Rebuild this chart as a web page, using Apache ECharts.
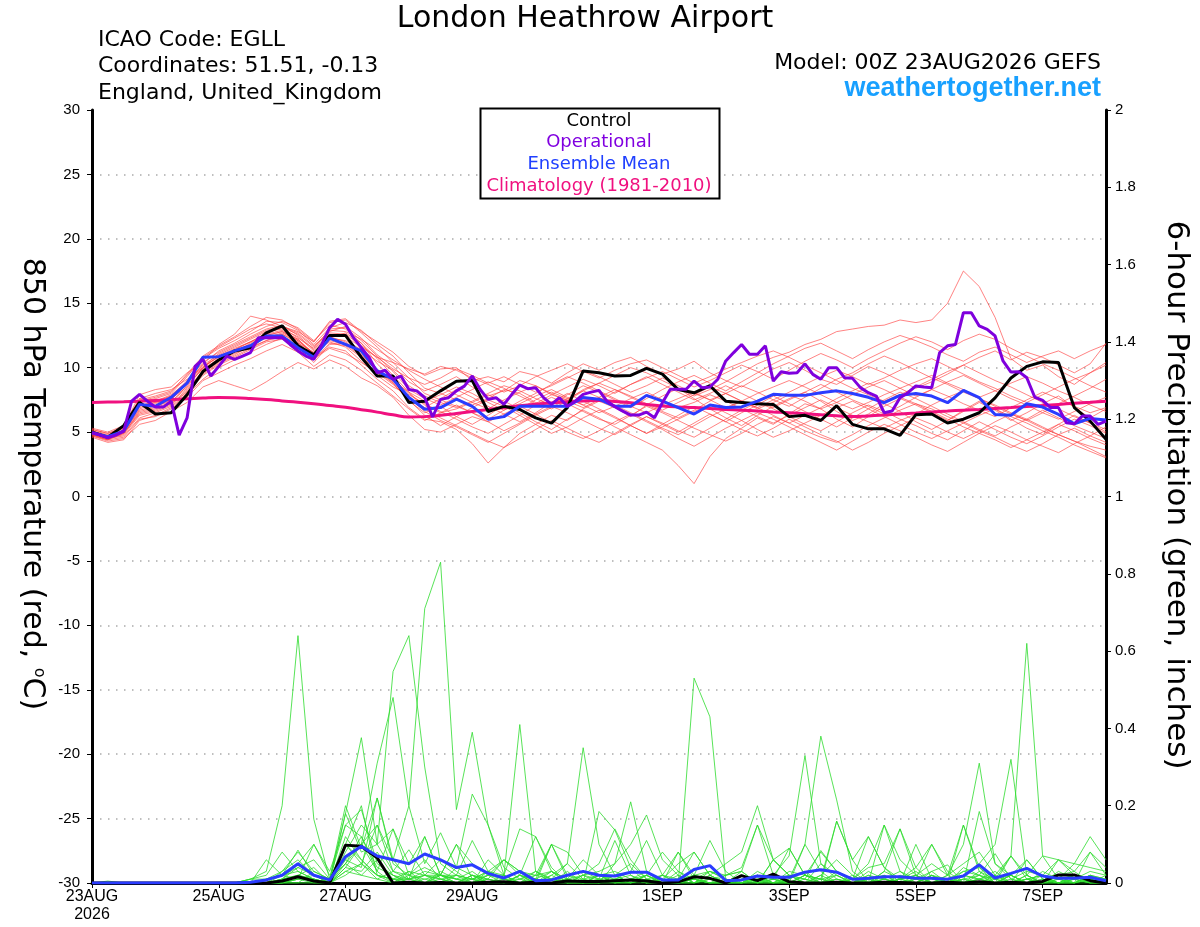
<!DOCTYPE html>
<html><head><meta charset="utf-8">
<script src="https://cdn.jsdelivr.net/npm/echarts@6/dist/echarts.min.js"></script>
<style>html,body{margin:0;padding:0;background:#fff}#c{width:1200px;height:927px}</style>
</head><body><div id="c"></div>
<script>
// ---- axis / labels ----
const tickHours = [0, 48, 96, 144, 216, 264, 312, 360];
const tickLabels = ['23AUG\n2026', '25AUG', '27AUG', '29AUG', '1SEP', '3SEP', '5SEP', '7SEP'];
const STEP = 6;      // hours between ensemble values
const OP_STEP = 3;   // hours between operational values

// ---- 850 hPa temperature (°C) ----
const control = [5.0,4.6,5.5,7.3,6.4,6.5,7.9,9.7, 10.6,11.3,11.55,12.7,13.25,11.7,11.0,12.5,
 12.5,10.8,9.35,9.35,7.3,7.4,8.2,8.95, 9.0,6.6,7.0,6.75,6.1,5.7,6.9,9.75,
 9.6,9.35,9.4,9.95,9.5,8.3,8.05,8.6, 7.4,7.3,7.2,7.15,6.2,6.3,5.9,7.05,
 5.6,5.25,5.25,4.75,6.35,6.4,5.7,6.0, 6.5,7.65,9.2,10.1,10.45,10.4,6.9,5.85, 4.45];
const ensMean = [4.95,4.64,5.08,7.15,7.0,7.7,8.8,10.8, 10.85,11.3,11.7,12.45,12.45,11.55,10.8,12.3,
 11.8,11.3,9.75,9.1,7.68,6.77,6.9,7.55, 7.0,6.0,6.2,7.0,7.0,7.0,7.0,7.68,
 7.55,7.0,7.0,7.85,7.4,6.9,6.4,7.1, 6.9,6.95,7.4,7.93,7.85,7.85,8.06,8.2,
 8.0,7.7,7.28,7.85,8.0,7.8,7.28,8.24, 7.67,6.37,6.3,7.2,6.94,6.37,5.65,6.06, 5.93];
const operational = [4.95,4.77,4.56,4.77,5.08,7.4,7.93,7.4,6.94,6.94,7.4,4.77,6.1,10.1,10.65,9.35,
 10.1,10.9,10.65,10.9,11.17,12.33,12.33,12.33,12.33,11.8,11.3,10.9,10.65,11.8,13.1,13.75,
 13.37,12.33,11.55,10.78,9.6,9.8,9.1,9.35,8.3,8.2,7.67,6.17,7.54,7.67,8.2,8.57,
 9.35,8.3,7.54,7.67,7.15,7.93,8.65,8.37,8.44,7.67,7.15,7.67,7.0,7.4,7.93,8.1,
 8.24,7.41,6.97,6.63,6.32,6.32,6.55,6.11,7.28,8.32,8.32,8.32,8.96,8.45,8.5,9.1,
 10.52,11.17,11.8,11.04,11.04,11.7,8.96,9.69,9.56,9.6,10.3,9.48,9.1,10.0,10.0,9.22,
 9.17,8.45,8.06,7.8,6.5,6.63,7.67,8.06,8.58,8.5,8.45,11.17,11.7,11.8,14.27,14.27,
 13.24,12.98,12.46,10.52,9.66,9.69,9.22,7.72,7.46,6.9,6.9,5.73,5.65,6.24,6.24,5.6, 5.85];
const climatology = [7.30,7.33,7.36,7.40,7.45,7.52,7.58,7.64, 7.68,7.66,7.60,7.52,7.42,7.32,7.20,7.06,
 6.92,6.74,6.55,6.34,6.17,6.20,6.30,6.45, 6.60,6.75,6.90,7.05,7.16,7.26,7.35,7.42,
 7.45,7.38,7.28,7.15,7.03,6.95,6.90,6.83, 6.76,6.70,6.63,6.56,6.50,6.42,6.34,6.26,
 6.20,6.25,6.32,6.40,6.48,6.56,6.63,6.70, 6.76,6.83,6.90,6.98,7.06,7.15,7.23,7.31, 7.40];

const mem01 = [4.9,4.5,5.1,6.9,7.3,7.8,9.0,10.4, 11.2,11.8,12.4,13.0,13.3,12.5,11.4,12.8, 13.2,12.3,11.0,10.1,8.9,8.2,8.7,9.3, 8.5,7.8,8.2,9.0,8.6,7.9,7.5,8.3, 8.8,9.4,10.0,9.6,9.0,8.4,7.8,8.3, 8.9,9.6,10.3,10.8,11.2,11.8,12.2,12.8, 13.0,13.2,13.3,13.7,13.5,13.7,15.0,17.5, 16.3,13.9,10.7,9.8,10.2,9.3,8.7,9.6, 10.4];
const mem02 = [5.0,4.7,4.9,6.5,6.8,7.2,8.1,9.5, 10.3,10.9,11.5,12.1,12.6,12.0,10.8,11.6, 11.3,10.2,9.1,8.2,6.9,6.0,5.8,5.2, 4.1,2.6,3.8,4.9,5.6,6.3,5.9,6.8, 7.4,6.9,6.2,7.1,7.8,8.4,7.6,6.8, 6.1,5.5,6.3,7.0,7.6,8.1,7.4,6.6, 5.9,6.4,7.2,6.6,5.8,5.2,5.9,6.7, 7.4,6.8,6.0,5.3,4.8,5.6,6.3,5.7, 5.0];
const mem03 = [4.8,4.4,5.2,7.2,7.0,7.5,8.8,10.1, 10.8,11.4,12.0,12.6,12.9,12.2,11.0,12.4, 12.0,11.1,9.7,8.8,7.4,6.5,7.0,6.2, 5.6,6.3,7.1,6.5,5.8,5.2,6.0,6.7, 6.1,5.4,4.8,4.2,3.6,2.4,1.0,3.1, 4.5,5.3,6.1,5.6,6.4,7.2,6.8,6.0, 5.4,6.2,7.0,7.6,7.1,6.5,5.9,6.6, 7.3,6.7,5.9,6.5,7.2,7.8,6.9,6.1, 6.8];
const mem04 = [5.2,4.9,5.4,7.9,8.3,8.5,9.6,10.5, 11.8,12.6,14.0,13.7,13.2,12.8,12.0,13.6, 13.8,12.8,12.0,11.2,10.1,9.4,9.9,10.0, 9.0,9.3,8.9,9.7,9.4,8.8,9.6,10.3, 9.8,10.4,10.8,10.1,9.5,9.9,10.5,9.6, 9.0,8.5,9.2,9.9,10.4,9.8,9.1,8.7, 9.4,10.1,9.6,9.0,8.4,8.9,9.5,10.2, 10.8,11.3,10.6,11.2,10.8,10.2,9.6,10.3, 11.9];
const mem05 = [4.7,4.3,4.5,5.6,5.9,6.6,7.3,8.5, 9.0,8.6,8.2,8.9,9.7,10.4,9.9,10.6, 10.1,9.2,8.6,7.7,6.3,5.2,5.0,5.6, 6.2,5.8,5.1,5.7,6.4,7.0,6.5,5.9, 5.3,4.8,5.5,6.2,5.7,5.1,4.6,5.3, 6.0,6.7,7.3,6.8,6.2,5.6,5.1,5.8, 6.5,7.1,6.6,6.0,5.5,4.9,4.4,5.1, 5.8,5.2,4.6,4.1,4.7,5.4,6.0,5.5, 4.9];
const mem06 = [5.1,4.8,5.3,7.5,7.8,8.2,9.4,10.7, 11.5,12.1,12.8,13.6,13.5,12.9,11.8,13.1, 13.5,12.9,11.8,10.9,9.6,8.4,8.0,7.5, 7.1,7.6,8.3,8.0,7.3,6.8,7.4,8.2, 8.8,8.3,7.7,7.1,6.6,6.1,6.7,7.4, 8.0,8.6,8.1,7.5,7.0,7.7,8.4,9.1, 9.6,10.3,10.9,10.4,9.8,9.2,8.7,8.1, 7.6,7.1,6.5,6.0,5.4,4.8,4.3,3.9, 3.6];
const mem07 = [4.9,4.6,5.0,6.7,7.0,7.4,8.4,9.7, 10.5,11.1,11.6,12.1,12.4,11.9,11.2,12.0, 11.6,10.5,9.4,8.5,7.9,7.2,6.6,6.0, 5.4,4.9,5.6,6.3,7.1,7.7,7.2,6.6, 6.0,5.6,6.3,7.0,6.5,5.9,5.3,4.8, 4.3,4.9,5.6,6.2,5.7,5.1,4.6,4.2, 4.8,5.5,6.1,6.7,7.2,6.8,6.2,5.7, 5.1,4.6,4.0,3.5,4.1,4.8,5.3,4.7, 4.2];
const mem08 = [5.0,4.7,5.2,7.0,7.4,7.9,8.9,10.2, 11.0,11.6,12.2,12.8,13.0,12.4,11.3,12.6, 12.4,11.6,10.8,10.4,9.9,9.5,10.1,9.8, 9.2,8.7,8.1,8.6,9.3,9.8,10.3,9.7, 9.2,9.8,10.3,10.6,10.0,9.4,8.8,9.3, 9.9,10.4,10.9,11.3,10.8,10.2,9.6,9.0, 8.4,7.9,7.4,7.9,8.5,9.1,9.7,10.2, 9.6,9.0,8.5,7.9,7.3,6.8,6.2,5.7, 5.2];
const mem09 = [4.6,4.2,4.4,5.9,6.3,6.9,7.9,9.1, 10.0,10.6,11.2,11.8,12.3,11.7,10.6,11.9, 11.7,10.8,9.8,9.0,8.1,7.4,7.9,8.5, 8.0,7.3,6.7,7.2,7.8,8.3,7.7,7.1, 6.5,7.0,7.6,8.1,7.5,6.9,7.3,7.9, 7.4,6.8,6.2,5.7,6.3,6.9,7.5,6.9, 6.3,5.8,5.3,5.9,6.4,7.1,7.7,8.2, 7.6,7.0,6.4,5.9,6.5,7.2,7.8,8.4, 9.1];
const mem10 = [5.3,5.0,5.5,7.6,8.0,8.3,9.1,10.0, 10.9,11.5,12.0,12.5,12.8,12.2,11.1,12.3, 12.1,11.4,10.5,9.8,8.6,7.8,7.3,6.9, 7.4,8.0,8.6,8.2,7.6,7.1,7.9,8.6, 8.1,7.5,6.9,7.6,8.3,8.9,9.4,8.8, 8.2,8.9,9.6,10.3,10.9,11.5,11.9,11.3, 10.7,11.4,12.0,12.5,12.1,11.6,11.0,10.5, 11.2,11.6,11.0,10.4,10.9,11.3,10.7,11.3, 11.8];
const mem11 = [4.8,4.5,4.8,6.3,6.6,7.1,8.2,9.8, 10.6,11.2,11.9,12.5,12.8,12.1,11.0,12.3, 12.7,11.9,10.7,9.4,8.1,6.8,6.1,5.5, 4.9,4.3,3.8,4.5,5.2,5.9,5.3,4.7, 4.2,4.9,5.6,6.2,5.6,5.0,5.7,6.4, 5.8,5.2,4.7,5.3,6.0,5.4,4.8,4.3, 3.6,4.2,4.9,5.5,6.1,5.6,5.0,4.5, 5.1,5.8,6.4,5.9,5.3,4.8,4.3,3.7, 3.1];
const mem12 = [5.0,4.6,5.1,7.3,7.6,8.0,9.3,10.8, 11.6,12.3,13.0,13.4,13.1,12.3,11.5,13.0, 13.1,12.1,10.9,9.7,8.3,7.6,7.1,7.7, 8.3,8.9,8.4,7.8,7.2,7.9,8.5,9.1, 8.6,8.0,8.7,9.3,8.7,8.1,7.5,8.0, 8.6,8.0,7.4,6.9,7.5,8.1,8.7,8.1, 7.5,7.0,6.4,7.0,7.7,8.3,7.8,7.2, 6.7,6.2,6.9,7.5,8.1,7.6,7.0,6.5, 6.9];
const mem13 = [4.7,4.4,4.9,6.6,6.9,7.3,8.6,10.0, 10.9,11.3,11.8,12.4,12.6,11.9,10.7,11.5, 11.1,10.4,9.6,8.7,7.6,6.9,7.6,8.3, 7.7,7.0,6.4,5.8,6.5,7.3,8.0,7.4, 6.8,6.2,5.5,4.9,5.6,6.3,7.0,6.4, 5.8,6.5,7.1,7.8,7.2,6.6,6.0,5.4, 6.1,6.8,7.5,8.1,7.6,7.0,6.4,5.8, 5.2,4.7,5.4,6.0,6.7,6.1,5.5,5.0, 4.5];
const mem14 = [5.1,4.7,5.0,6.8,7.2,7.7,8.7,9.9, 10.7,11.4,12.0,12.7,13.1,12.6,11.6,12.9, 12.8,12.2,11.4,10.6,9.8,9.1,8.5,7.9, 7.3,6.8,7.5,8.1,8.6,8.0,7.4,6.9, 7.5,8.1,8.7,9.2,9.7,9.1,8.5,9.0, 9.6,10.2,9.7,9.1,9.8,10.5,11.1,10.6, 10.0,10.7,11.3,11.9,12.4,12.0,11.4,12.1, 12.6,12.2,11.5,10.9,10.3,9.8,9.2,8.6, 8.1];
const mem15 = [4.9,4.5,4.7,6.1,6.5,7.0,8.0,9.4, 10.2,10.8,11.4,12.0,12.2,11.6,10.4,11.8, 11.9,11.0,9.9,8.8,7.5,6.3,5.5,6.2, 6.9,7.5,7.0,6.3,5.6,4.9,5.4,6.1, 6.7,6.1,5.5,4.9,5.4,6.0,6.6,7.1, 6.5,5.9,5.2,4.6,5.1,5.7,6.3,6.9, 7.4,6.8,6.2,5.6,5.0,4.5,5.1,5.7, 6.3,6.8,6.2,5.7,5.1,4.6,4.0,3.5, 3.0];
const mem16 = [5.2,4.9,5.3,7.4,7.7,8.1,9.5,10.9, 11.7,12.4,13.2,13.9,13.7,13.0,12.0,13.5, 13.7,12.7,11.6,10.4,9.2,8.0,7.5,7.0, 6.5,6.0,6.7,7.4,8.0,8.7,9.3,8.8, 8.2,7.6,7.0,6.5,7.1,7.6,8.1,7.5, 6.9,7.4,8.0,8.5,9.0,8.5,7.9,7.3, 6.8,7.3,7.9,8.4,8.9,9.4,8.8,8.3, 7.7,8.2,8.8,9.3,8.8,8.2,7.7,7.1, 6.6];
const mem17 = [4.8,4.4,4.6,6.0,6.2,6.8,7.7,9.0, 9.6,10.2,10.7,11.3,11.8,11.2,10.1,11.0, 10.6,9.8,8.8,7.8,6.8,5.9,6.5,7.1, 6.5,5.8,6.4,7.0,6.4,5.7,5.0,4.5, 5.1,5.8,6.4,5.8,5.2,4.5,3.9,4.6, 5.3,5.9,6.5,6.0,5.4,4.8,4.2,3.6, 4.3,5.0,5.6,5.1,4.6,4.0,3.5,4.2, 4.9,5.5,5.0,4.4,3.9,3.4,4.1,4.7, 5.4];
const mem18 = [5.0,4.6,5.0,7.1,7.3,7.6,8.5,10.0, 11.1,11.7,12.3,12.9,13.2,12.7,11.7,12.7, 12.6,11.7,10.8,9.9,9.2,8.7,9.2,9.9, 9.4,8.8,9.3,8.7,8.1,8.6,9.2,9.8, 9.3,8.7,8.1,8.6,9.2,8.6,8.0,7.5, 8.0,7.4,6.9,7.5,8.1,8.7,9.3,9.8, 9.3,8.7,9.2,9.8,10.3,10.7,10.1,9.5, 8.9,8.4,7.8,7.3,7.9,8.5,9.1,9.6, 10.2];
const mem19 = [4.9,4.5,5.1,7.6,7.4,7.8,8.8,10.3, 11.3,11.9,12.6,13.2,13.6,13.1,12.1,13.3, 13.0,11.9,10.3,9.1,8.0,7.1,6.5,6.8, 7.3,7.9,7.4,6.8,7.5,8.1,7.6,7.1, 7.7,8.3,7.8,7.2,6.7,7.3,7.9,8.5, 8.0,7.4,6.8,7.3,7.9,7.4,6.8,7.3, 7.9,8.5,9.0,8.4,7.8,8.3,8.9,9.4, 8.8,8.2,7.6,7.1,6.5,6.0,6.6,7.2, 7.7];
const mem20 = [4.8,4.5,4.9,6.4,6.7,7.2,8.3,9.6, 10.4,11.0,11.7,12.3,12.7,12.1,11.1,12.1, 11.8,10.9,9.8,8.9,7.7,6.6,5.9,5.4, 4.8,4.2,4.9,5.6,6.3,6.9,7.6,8.2, 7.7,7.1,6.5,5.9,5.3,4.8,5.5,6.2, 6.8,7.4,6.9,6.3,5.7,6.3,6.9,7.6, 8.2,8.8,8.3,7.7,7.2,6.6,6.0,5.4, 4.9,4.4,3.8,4.4,5.0,5.6,5.1,4.5, 4.0];

// ---- 6-hour precipitation (inches) ----
const controlPcp = [0,0,0,0,0,0,0,0, 0,0,0,0,0.005,0.016,0.005,0, 0.098,0.095,0.065,0,0.002,0,0.001,0,
 0,0.002,0.003,0,0.002,0,0.005,0.004, 0.004,0.006,0.008,0.005,0,0.003,0.016,0.012,
 0,0.019,0.006,0.023,0.003,0,0,0.002, 0,0,0.002,0.001,0,0,0.002,0, 0.003,0,0.002,0,0.004,0.021,0.021,0.006, 0];
const meanPcp = [0,0,0,0,0,0,0,0, 0,0,0.002,0.008,0.02,0.05,0.02,0.008, 0.068,0.095,0.07,0.06,0.05,0.075,0.06,0.04,
 0.047,0.025,0.013,0.03,0.006,0.008,0.02,0.03, 0.02,0.018,0.028,0.028,0.008,0.008,0.035,0.045,
 0.006,0.008,0.018,0.015,0.015,0.028,0.034,0.028, 0.01,0.012,0.016,0.016,0.012,0.012,0.01,0.018,
 0.047,0.013,0.025,0.038,0.018,0.012,0.012,0.015, 0.006];
const pcp01 = [0,0,0,0,0,0,0,0, 0,0,0.01,0.03,0.2,0.64,0.165,0.01, 0.05,0.12,0.03,0,0.02,0.06,0.01,0, 0,0.03,0.01,0,0,0.02,0.05,0.01, 0,0,0.01,0.03,0,0,0.02,0.01, 0,0,0.03,0.01,0,0,0.05,0.02, 0,0,0.01,0,0,0.02,0.01,0, 0.03,0.01,0,0,0.02,0,0,0.01, 0];
const pcp02 = [0,0,0,0,0,0,0,0, 0,0,0,0.01,0.02,0.04,0.02,0, 0.04,0.1,0.15,0.06,0.2,0.71,0.83,0.19, 0.39,0.15,0.02,0,0.01,0.03,0,0, 0.01,0,0,0.02,0,0,0.01,0, 0,0.02,0,0,0.01,0.03,0,0, 0,0.01,0,0,0.02,0,0,0.04, 0.02,0,0,0.01,0,0,0.02,0, 0];
const pcp03 = [0,0,0,0,0,0,0,0, 0,0,0,0,0.01,0.02,0.01,0, 0.08,0.15,0.1,0.547,0.64,0.3,0.05,0.02, 0,0.01,0,0.02,0.12,0.04,0,0, 0,0.02,0.05,0.01,0,0,0,0.03, 0.01,0,0,0.06,0.02,0,0,0.01, 0,0,0.03,0.14,0.02,0,0,0.01, 0,0,0.07,0.02,0,0,0.01,0, 0];
const pcp04 = [0,0,0,0,0,0,0,0, 0,0,0,0,0.03,0.06,0.02,0, 0.05,0.1,0.31,0.48,0.2,0.05,0.13,0.04, 0.02,0,0.01,0.03,0,0,0.01,0.06, 0.02,0,0,0,0.01,0.05,0.08,0.02, 0,0,0.01,0,0,0.02,0.08,0.03, 0,0.02,0.01,0,0.01,0.1,0.03,0, 0,0.01,0,0.06,0.01,0,0,0.02, 0.01];
const pcp05 = [0,0.005,0,0,0,0,0,0, 0,0,0.01,0.02,0.08,0.03,0.01,0, 0.18,0.376,0.1,0.14,0.05,0.12,0.02,0, 0.01,0.03,0.06,0.02,0,0,0,0, 0,0.01,0.02,0,0.02,0.08,0.01,0, 0,0.03,0.15,0.02,0,0,0.02,0.06, 0.02,0,0,0.01,0.04,0,0,0.15, 0.03,0,0,0.02,0.07,0.01,0,0, 0];
const pcp06 = [0,0,0,0,0,0,0,0, 0,0,0,0,0.01,0.04,0.06,0.01, 0.2,0.09,0.22,0.06,0.01,0.03,0.02,0.1, 0.05,0.02,0.02,0.41,0.03,0.01,0,0.02, 0.05,0.14,0.06,0.01,0,0.02,0,0, 0,0.02,0,0.06,0.09,0.02,0,0, 0.01,0.12,0.04,0,0,0.02,0,0, 0.185,0.05,0.01,0,0,0.02,0,0.08, 0.02];
const pcp07 = [0,0,0,0,0,0,0,0, 0,0,0,0.01,0.02,0.01,0.1,0.03, 0.15,0.19,0.05,0.02,0,0.01,0.02,0.01, 0,0.02,0.06,0.03,0.02,0.01,0.05,0.35, 0.1,0.02,0,0.01,0,0.03,0.01,0, 0,0,0.02,0,0,0.1,0.03,0, 0,0,0.15,0.03,0.01,0,0.02,0, 0.01,0.03,0,0.01,0,0.06,0.02,0, 0.01];
const pcp08 = [0,0,0,0,0,0,0,0, 0,0,0,0.06,0.02,0.085,0.02,0, 0.03,0.05,0.15,0.03,0.086,0.02,0,0.04, 0.23,0.15,0.04,0.01,0,0.1,0.02,0, 0,0.01,0.03,0.11,0.02,0,0.01,0, 0.02,0.03,0,0,0.02,0,0,0.16, 0.06,0,0.01,0,0,0.03,0.047,0, 0.02,0.076,0.01,0,0,0.02,0.03,0, 0];
const pcp09 = [0,0,0,0,0,0,0,0, 0,0,0,0,0,0.02,0.04,0, 0.12,0.06,0.02,0.01,0,0,0.01,0.02, 0.11,0.03,0.01,0,0.02,0.03,0.01,0, 0.185,0.137,0.04,0,0.01,0,0,0.02, 0,0.01,0,0,0,0.02,0.01,0, 0.01,0,0.02,0,0.1,0.01,0,0.03, 0.04,0,0.02,0,0,0.01,0.05,0.12, 0.06];
const pcp10 = [0,0,0,0,0,0,0,0, 0,0,0,0,0,0.01,0,0, 0.03,0.02,0.06,0.01,0.01,0.02,0.06,0.03, 0,0.01,0,0.01,0.03,0,0.02,0.01, 0.02,0.03,0.01,0,0,0,0.53,0.43, 0.01,0,0.02,0.01,0,0,0.01,0.02, 0,0,0.01,0.03,0,0,0.01,0, 0.01,0,0.02,0,0.01,0,0,0.01, 0];
const pcp11 = [0,0,0,0,0,0,0,0, 0,0,0,0,0.01,0.02,0,0, 0.1,0.06,0.02,0.01,0.01,0,0.02,0.1, 0.01,0,0.02,0,0,0.01,0.02,0.03, 0.01,0,0,0.02,0,0.08,0.02,0.11, 0.03,0,0.01,0.02,0.07,0.33,0.05,0.01, 0,0.01,0,0.02,0.01,0,0,0.02, 0.01,0,0,0.02,0,0.01,0.02,0, 0];
const pcp12 = [0,0,0,0,0,0,0,0, 0,0,0,0,0,0,0,0, 0.02,0.05,0.01,0,0.03,0.02,0.01,0, 0.02,0,0,0.02,0.01,0,0.01,0.02, 0,0,0.01,0,0,0,0.01,0, 0,0,0.02,0,0.01,0.1,0.38,0.215, 0.03,0,0,0.01,0.02,0,0,0.01, 0,0.02,0,0.01,0,0,0.01,0, 0];
const pcp13 = [0,0,0,0,0,0,0,0, 0,0,0,0,0,0.01,0.01,0, 0.04,0.03,0.08,0.02,0,0.02,0.01,0, 0.02,0.01,0,0,0.03,0.01,0,0, 0.02,0.01,0,0.02,0,0,0.02,0.01, 0,0.02,0,0.01,0,0.02,0.01,0, 0.01,0,0.03,0.01,0.02,0.05,0.02,0.1, 0.31,0.05,0.02,0,0.01,0,0,0.02, 0];
const pcp14 = [0,0,0,0,0,0,0,0, 0,0,0,0,0,0,0.03,0.01, 0.1,0.05,0.02,0,0.01,0,0.03,0.01, 0,0.02,0.01,0,0,0.02,0,0.01, 0,0.05,0.21,0.03,0,0,0.01,0, 0.01,0,0,0.02,0,0,0,0.01, 0,0.02,0,0.01,0.03,0,0.01,0.02, 0.05,0.1,0.32,0.02,0,0.03,0.01,0, 0.02];
const pcp15 = [0,0,0,0,0,0,0,0, 0,0,0,0,0,0,0,0.01, 0.05,0.02,0.01,0.03,0.02,0,0,0.02, 0.01,0,0,0.02,0.01,0,0.03,0, 0,0.02,0,0.01,0.02,0,0,0.01, 0,0.01,0.02,0,0,0.01,0,0, 0.02,0,0,0.01,0,0.02,0,0.01, 0.02,0.01,0.07,0.62,0.07,0.06,0.05,0.04, 0.03];
const pcp16 = [0,0,0,0,0,0,0,0, 0,0,0,0,0.01,0.05,0.1,0.02, 0.06,0.1,0.03,0.14,0.02,0.01,0,0, 0.02,0.01,0.06,0.03,0.01,0,0,0.02, 0.03,0.05,0.1,0.176,0.06,0.02,0,0.02, 0.05,0.08,0.2,0.06,0.02,0,0.02,0, 0,0.03,0.01,0,0,0.02,0,0, 0.01,0,0.02,0,0.03,0.01,0,0.02, 0];
const pcp17 = [0,0,0,0,0,0,0,0, 0,0,0,0,0.02,0.03,0.01,0, 0.1,0.2,0.02,0.01,0.03,0,0.02,0.02, 0.01,0.03,0.02,0,0.01,0.1,0.08,0.02, 0.01,0.02,0,0.02,0.08,0.03,0,0.01, 0.02,0.04,0.15,0.06,0.02,0.01,0.084,0.03, 0.01,0.05,0.15,0.06,0.02,0,0.01,0.03, 0.02,0,0.01,0.03,0.02,0,0.02,0.01, 0];
const pcp18 = [0,0,0,0,0,0,0,0, 0,0,0,0,0,0.02,0.01,0, 0.06,0.04,0.22,0.05,0.02,0.04,0.02,0, 0,0.06,0.02,0.14,0.12,0.03,0,0, 0.02,0,0.01,0,0.02,0.01,0.08,0.02, 0,0,0.01,0,0.03,0.02,0,0.03, 0.01,0.04,0.05,0.14,0.04,0.1,0.02,0.15, 0.04,0.01,0.02,0.06,0.01,0,0.01,0.03, 0.02];
const pcp19 = [0,0,0,0,0,0,0,0, 0,0,0,0,0,0.01,0.02,0.01, 0.15,0.12,0.04,0.02,0.01,0.12,0.02,0.01, 0.03,0,0.01,0.01,0.02,0.1,0.01,0, 0.01,0.11,0.02,0,0,0.01,0.01,0.03, 0.01,0,0,0.01,0.09,0.02,0.01,0.16, 0.06,0.12,0.04,0.01,0,0,0.02,0.05, 0.08,0.02,0.07,0.01,0.02,0.06,0.03,0.08, 0.04];
const pcp20 = [0,0,0,0,0,0,0,0, 0,0,0.01,0.01,0.03,0.08,0.03,0.01, 0.18,0.08,0.1,0.03,0.01,0.02,0.02,0.01, 0.01,0.02,0,0.02,0,0.03,0.01,0, 0.02,0,0.01,0.02,0,0.01,0.02,0.03, 0.02,0.03,0,0.01,0.02,0.01,0,0.02, 0,0.01,0.02,0,0.01,0.03,0,0.02, 0.01,0.02,0,0.01,0.02,0.01,0,0.02, 0.01];

const tempMembers = [mem01,mem02,mem03,mem04,mem05,mem06,mem07,mem08,mem09,mem10,
                     mem11,mem12,mem13,mem14,mem15,mem16,mem17,mem18,mem19,mem20];
const pcpMembers = [pcp01,pcp02,pcp03,pcp04,pcp05,pcp06,pcp07,pcp08,pcp09,pcp10,
                    pcp11,pcp12,pcp13,pcp14,pcp15,pcp16,pcp17,pcp18,pcp19,pcp20];

// ---- build chart ----
const FONT = '"Liberation Sans", Arial, Helvetica, sans-serif';
const WIDE = '"DejaVu Sans", Verdana, sans-serif';
const pairs = (arr, step) => arr.map((v, i) => [i * step, v]);
const labelMap = {};
tickHours.forEach((h, i) => labelMap[h] = tickLabels[i]);

const series = [];
tempMembers.forEach((m, k) => series.push({
  type: 'line', name: 'mem' + (k + 1), data: pairs(m, STEP), yAxisIndex: 0,
  symbol: 'none', silent: true, lineStyle: { color: 'rgba(255,60,60,0.8)', width: 0.8 }, z: 2
}));
pcpMembers.forEach((m, k) => series.push({
  type: 'line', name: 'pcp' + (k + 1), data: pairs(m, STEP), yAxisIndex: 1,
  symbol: 'none', silent: true, lineStyle: { color: '#2ddc2d', width: 0.8 }, z: 3
}));
series.push({ type: 'line', name: 'Climatology', data: pairs(climatology, STEP), yAxisIndex: 0,
  symbol: 'none', smooth: true, lineStyle: { color: '#f0107f', width: 3 }, z: 5 });
series.push({ type: 'line', name: 'Control', data: pairs(control, STEP), yAxisIndex: 0,
  symbol: 'none', lineStyle: { color: '#000', width: 3 }, z: 6 });
series.push({ type: 'line', name: 'Ensemble Mean', data: pairs(ensMean, STEP), yAxisIndex: 0,
  symbol: 'none', lineStyle: { color: '#2a3cff', width: 3 }, z: 7 });
series.push({ type: 'line', name: 'Operational', data: pairs(operational, OP_STEP), yAxisIndex: 0,
  symbol: 'none', lineStyle: { color: '#7f00dd', width: 3 }, z: 8 });
series.push({ type: 'line', name: 'Control Pcp', data: pairs(controlPcp, STEP), yAxisIndex: 1,
  symbol: 'none', lineStyle: { color: '#000', width: 3 }, z: 6 });
series.push({ type: 'line', name: 'Mean Pcp', data: pairs(meanPcp, STEP), yAxisIndex: 1,
  symbol: 'none', lineStyle: { color: '#2a3cff', width: 3 }, z: 7 });

const chart = echarts.init(document.getElementById('c'), null, { renderer: 'canvas' });
chart.setOption({
  animation: false,
  backgroundColor: '#fff',
  textStyle: { fontFamily: FONT },
  grid: { left: 92, right: 94, top: 110, bottom: 44 },
  xAxis: {
    type: 'value', min: 0, max: 384,
    axisLine: { show: true, onZero: false, lineStyle: { color: '#000', width: 3 } },
    axisTick: { show: true, customValues: tickHours, length: 5, lineStyle: { color: '#000', width: 1 } },
    axisLabel: { customValues: tickHours, formatter: v => labelMap[v] || '', color: '#000',
      fontSize: 16, fontFamily: FONT, margin: 5, lineHeight: 18 },
    splitLine: { show: false }
  },
  yAxis: [{
    type: 'value', min: -30, max: 30, interval: 5, position: 'left',
    axisLine: { show: true, onZero: false, lineStyle: { color: '#000', width: 3 } },
    axisTick: { show: true, length: 5, lineStyle: { color: '#000', width: 1 } },
    axisLabel: { color: '#000', fontSize: 15, fontFamily: FONT, margin: 12 },
    splitLine: { show: true, showMinLine: false, showMaxLine: false,
      lineStyle: { color: '#aaa', width: 1.5, type: [1.5, 6.5] } }
  }, {
    type: 'value', min: 0, max: 2, interval: 0.2, position: 'right',
    axisLine: { show: true, onZero: false, lineStyle: { color: '#000', width: 3 } },
    axisTick: { show: true, length: 5, lineStyle: { color: '#000', width: 1 } },
    axisLabel: { color: '#000', fontSize: 15, fontFamily: FONT, margin: 9 },
    splitLine: { show: false }
  }],
  graphic: [
    { type: 'text', x: 585, y: 19, style: { text: 'London Heathrow Airport', font: '30px ' + WIDE, fill: '#000', align: 'center', verticalAlign: 'middle' } },
    { type: 'text', x: 98, y: 40, style: { text: 'ICAO Code: EGLL', font: '22px ' + WIDE, fill: '#000', verticalAlign: 'middle' } },
    { type: 'text', x: 98, y: 66, style: { text: 'Coordinates: 51.51, -0.13', font: '22px ' + WIDE, fill: '#000', verticalAlign: 'middle' } },
    { type: 'text', x: 98, y: 93, style: { text: 'England, United_Kingdom', font: '22px ' + WIDE, fill: '#000', verticalAlign: 'middle' } },
    { type: 'text', x: 1101, y: 63, style: { text: 'Model: 00Z 23AUG2026 GEFS', font: '22px ' + WIDE, fill: '#000', align: 'right', verticalAlign: 'middle' } },
    { type: 'text', x: 1101, y: 89, style: { text: 'weathertogether.net', font: 'bold 27px ' + FONT, fill: '#18a0ff', align: 'right', verticalAlign: 'middle' } },
    { type: 'text', x: 32, y: 484, rotation: -Math.PI / 2,
      style: { text: '850 hPa Temperature (red, {s|o}C)', font: '30px ' + WIDE, fill: '#000', align: 'center', verticalAlign: 'middle',
        rich: { s: { font: '16px ' + WIDE, fill: '#000', verticalAlign: 'top' } } } },
    { type: 'text', x: 1176, y: 495, rotation: -Math.PI / 2,
      style: { text: '6-hour Precipitation (green, inches)', font: '31px ' + WIDE, fill: '#000', align: 'center', verticalAlign: 'middle' } },
    { type: 'rect', shape: { x: 480.5, y: 108.5, width: 239, height: 90 }, style: { fill: '#fff', stroke: '#000', lineWidth: 2 }, z: 100 },
    { type: 'text', x: 599, y: 121, z: 101, style: { text: 'Control', font: '18px ' + WIDE, fill: '#000', align: 'center', verticalAlign: 'middle' } },
    { type: 'text', x: 599, y: 142, z: 101, style: { text: 'Operational', font: '18px ' + WIDE, fill: '#8000e0', align: 'center', verticalAlign: 'middle' } },
    { type: 'text', x: 599, y: 164, z: 101, style: { text: 'Ensemble Mean', font: '18px ' + WIDE, fill: '#2040ff', align: 'center', verticalAlign: 'middle' } },
    { type: 'text', x: 599, y: 186, z: 101, style: { text: 'Climatology (1981-2010)', font: '18px ' + WIDE, fill: '#f0107f', align: 'center', verticalAlign: 'middle' } }
  ],
  series: series
});
</script></body></html>
